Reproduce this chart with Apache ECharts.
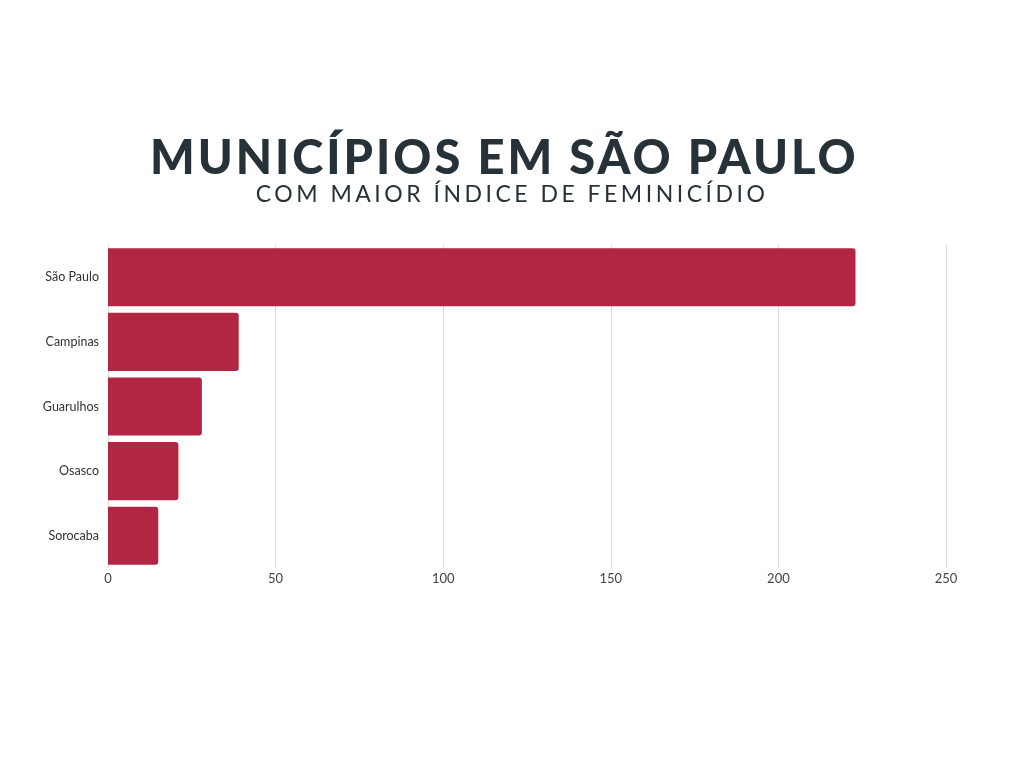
<!DOCTYPE html>
<html><head><meta charset="utf-8">
<script src="https://cdn.jsdelivr.net/npm/echarts@6/dist/echarts.min.js"></script>
<style>html,body{margin:0;padding:0;background:#fff}#c{width:1024px;height:768px}</style>
</head><body><div id="c"></div>
<script>
const categories = ['São Paulo', 'Campinas', 'Guarulhos', 'Osasco', 'Sorocaba'];
const values = [223, 39, 28, 21, 15];
const titleText = 'MUNICÍPIOS EM SÃO PAULO';
const subtitleText = 'COM MAIOR ÍNDICE DE FEMINICÍDIO';

// emulate the letter-spaced title typography
const origFill = CanvasRenderingContext2D.prototype.fillText;
CanvasRenderingContext2D.prototype.fillText = function (t, x, y, m) {
  const f = this.font || '';
  let ls = '0px';
  if (/900/.test(f) && /47px/.test(f)) ls = '3px';
  else if (/23px/.test(f)) ls = '3.5px';
  if ('letterSpacing' in this) this.letterSpacing = ls;
  const r = m === undefined ? origFill.call(this, t, x, y) : origFill.call(this, t, x, y, m);
  if ('letterSpacing' in this) this.letterSpacing = '0px';
  return r;
};

const chart = echarts.init(document.getElementById('c'), null, {renderer: 'canvas'});
chart.setOption({
  backgroundColor: '#ffffff',
  animation: false,
  title: [
    {text: titleText, left: 145, top: 130,
     textStyle: {fontFamily: 'Lato', fontWeight: 900, fontSize: 47, color: '#263238'}},
    {text: subtitleText, left: 'center', top: 178,
     textStyle: {fontFamily: 'Lato', fontWeight: 400, fontSize: 23, color: '#263238'}}
  ],
  grid: {left: 108, right: 78, top: 245, bottom: 200, containLabel: false},
  xAxis: {
    type: 'value', min: 0, max: 250, interval: 50,
    axisLine: {show: false}, axisTick: {show: false},
    splitLine: {show: true, lineStyle: {color: '#dcdcdc', width: 1}},
    axisLabel: {fontFamily: 'Lato', fontSize: 13, color: '#444', margin: 4}
  },
  yAxis: {
    type: 'category', data: categories, inverse: true,
    axisLine: {show: false}, axisTick: {show: false},
    axisLabel: {fontFamily: 'Lato', fontSize: 12.5, color: '#333', margin: 9}
  },
  series: [{
    type: 'bar', data: values, barCategoryGap: '10%',
    itemStyle: {color: '#B22643', borderRadius: [0, 3, 3, 0]}
  }]
});
</script></body></html>
